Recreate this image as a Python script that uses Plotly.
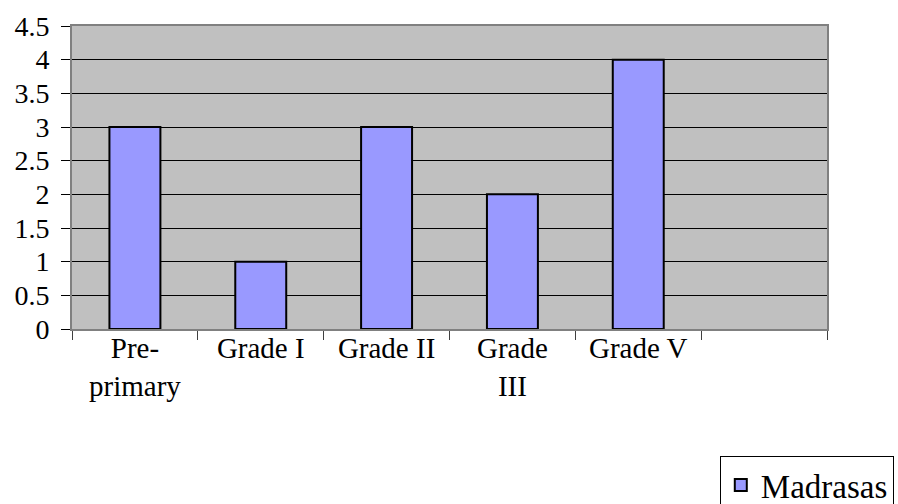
import plotly.graph_objects as go

# Number of madrasas by grade
categories = ["Pre-<br>primary", "Grade I", "Grade II", "Grade<br>III", "Grade V", " "]
values = [3, 1, 3, 2, 4, None]
series_name = "Madrasas"

y_ticks = [0, 0.5, 1, 1.5, 2, 2.5, 3, 3.5, 4, 4.5]

FONT = "Liberation Serif"

fig = go.Figure()
fig.add_trace(go.Bar(
    x=categories,
    y=values,
    name=series_name,
    width=0.405,
    marker=dict(color="#9999FF", line=dict(color="black", width=2)),
    showlegend=True,
))
# empty companion trace so the frame axis with boundary ticks gets drawn
fig.add_trace(go.Bar(
    x=categories,
    y=[None] * len(categories),
    xaxis="x2",
    showlegend=False,
    hoverinfo="skip",
))

cat_axis = dict(
    type="category",
    categoryorder="array",
    categoryarray=categories,
    range=[-0.5, 5.5],
    fixedrange=True,
    showgrid=False,
)

fig.update_layout(
    width=898,
    height=504,
    margin=dict(l=72, r=71, t=26, b=175, autoexpand=False),
    paper_bgcolor="white",
    plot_bgcolor="#C0C0C0",
    font=dict(family=FONT, color="black", size=28),
    showlegend=True,
    legend=dict(
        x=0.858, xanchor="left",
        y=-0.419, yanchor="top",
        bgcolor="white",
        bordercolor="black",
        borderwidth=1,
        font=dict(family=FONT, size=33, color="black"),
        itemwidth=30,
    ),
    # category labels
    xaxis=dict(
        **cat_axis,
        anchor="free",
        position=0.003,
        ticks="",
        tickangle=0,
        showline=False,
        tickfont=dict(family=FONT, size=29),
    ),
    # frame line and tick marks on the category boundaries
    xaxis2=dict(
        **cat_axis,
        overlaying="x",
        anchor="y",
        side="bottom",
        tickson="boundaries",
        ticks="outside",
        ticklen=9,
        tickcolor="#404040",
        tickwidth=1,
        showticklabels=False,
        showline=True,
        linecolor="#808080",
        linewidth=2,
        mirror=True,
    ),
    yaxis=dict(
        range=[0, 4.5],
        tickvals=y_ticks,
        ticktext=[f"{v:g}" for v in y_ticks],
        ticks="outside",
        ticklen=9,
        tickcolor="black",
        tickwidth=1,
        ticklabelstandoff=6,
        showline=True,
        linecolor="#808080",
        linewidth=2,
        mirror=True,
        showgrid=True,
        gridcolor="black",
        gridwidth=1,
        zeroline=False,
        tickfont=dict(family=FONT, size=28),
        fixedrange=True,
    ),
)

fig.write_html("out.html")
